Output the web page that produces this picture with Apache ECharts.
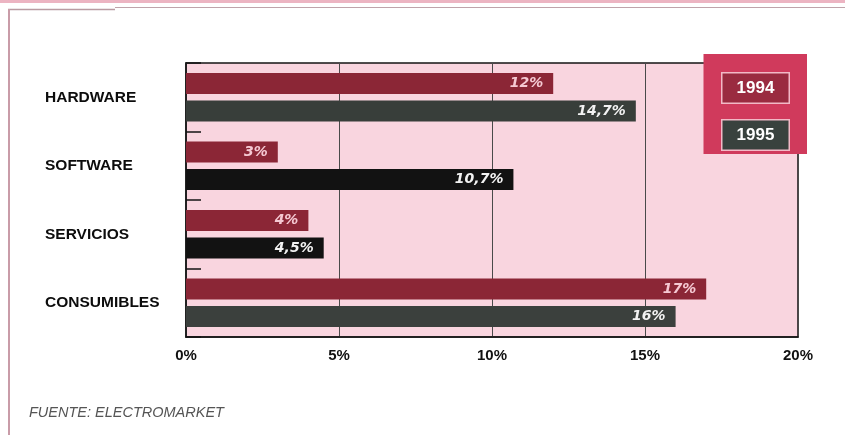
<!DOCTYPE html>
<html>
<head>
<meta charset="utf-8">
<script src="https://cdn.jsdelivr.net/npm/echarts@6/dist/echarts.min.js"></script>
<style>
  html, body { margin: 0; padding: 0; background: #ffffff; }
  #chart { width: 845px; height: 435px; }
</style>
</head>
<body>
<div id="chart"></div>
<script>
// Market growth by segment, 1994 vs 1995 (percent)
const categories = ['HARDWARE', 'SOFTWARE', 'SERVICIOS', 'CONSUMIBLES'];
const years = ['1994', '1995'];
const values1994 = [12, 3, 4, 17];
const values1995 = [14.7, 10.7, 4.5, 16];
const xTicks = [0, 5, 10, 15, 20];
const sourceNote = 'FUENTE: ELECTROMARKET';

// bar fills for the 1995 series (software and services printed in solid black)
const fill1994 = '#8b2636';
const fill1995 = ['#383e3a', '#121212', '#121212', '#3b403d'];
const legendFills = ['#9a2b40', '#39423e'];

const pct = v => String(v).replace('.', ',') + '%';

// one boxed rich-text style per legend entry
const legendBox = fill => ({
  backgroundColor: fill,
  borderColor: '#f2b9c6',
  borderWidth: 1.5,
  width: 66,
  height: 29,
  lineHeight: 29,
  align: 'center',
  color: '#ffffff',
  fontFamily: 'Liberation Sans, Arial, sans-serif',
  fontWeight: 'bold',
  fontSize: 17
});

const chart = echarts.init(document.getElementById('chart'), null, { renderer: 'canvas' });

chart.setOption({
  animation: false,
  backgroundColor: '#ffffff',
  grid: {
    left: 186, right: 47, top: 63, bottom: 98,
    show: true,
    backgroundColor: '#f9d5df',
    borderColor: '#151515',
    borderWidth: 1.5
  },
  legend: {
    orient: 'vertical',
    right: 38,
    top: 54,
    backgroundColor: '#d03a5c',
    padding: [18, 17, 3, 14],
    itemGap: 15,
    itemWidth: 0,
    itemHeight: 0,
    icon: 'rect',
    selectedMode: false,
    data: years,
    formatter: name => '{y' + years.indexOf(name) + '|' + name + '}',
    textStyle: {
      rich: {
        y0: legendBox(legendFills[0]),
        y1: legendBox(legendFills[1])
      }
    }
  },
  xAxis: {
    type: 'value',
    min: xTicks[0],
    max: xTicks[xTicks.length - 1],
    interval: xTicks[1] - xTicks[0],
    axisLine: { show: true, lineStyle: { color: '#151515', width: 1.5 } },
    axisTick: { show: false },
    splitLine: { show: true, lineStyle: { color: '#4a4a4a', width: 1 } },
    axisLabel: {
      formatter: '{value}%',
      color: '#111111',
      fontFamily: 'Liberation Sans, Arial, sans-serif',
      fontWeight: 'bold',
      fontSize: 15,
      margin: 11
    }
  },
  yAxis: {
    type: 'category',
    inverse: true,
    data: categories,
    axisLine: { show: true, lineStyle: { color: '#151515', width: 1.5 } },
    axisTick: { show: true, inside: true, length: 15, lineStyle: { color: '#151515', width: 1.5 } },
    axisLabel: {
      align: 'left',
      margin: 141,
      color: '#0c0c0c',
      fontFamily: 'Liberation Sans, Arial, sans-serif',
      fontWeight: 'bold',
      fontSize: 15.5
    }
  },
  series: [
    {
      name: years[0],
      type: 'bar',
      data: values1994,
      barWidth: 21,
      barGap: '30%',
      itemStyle: { color: fill1994 },
      label: {
        show: true,
        position: 'insideRight',
        distance: 10,
        formatter: p => pct(p.value),
        color: '#f5c9d3',
        fontFamily: 'DejaVu Sans, sans-serif',
        fontStyle: 'italic',
        fontWeight: 'bold',
        fontSize: 14
      }
    },
    {
      name: years[1],
      type: 'bar',
      data: values1995.map((v, i) => ({ value: v, itemStyle: { color: fill1995[i] } })),
      barWidth: 21,
      barGap: '30%',
      itemStyle: { color: fill1995[0] },
      label: {
        show: true,
        position: 'insideRight',
        distance: 10,
        formatter: p => pct(p.value),
        color: '#f2f2f2',
        fontFamily: 'DejaVu Sans, sans-serif',
        fontStyle: 'italic',
        fontWeight: 'bold',
        fontSize: 14
      }
    }
  ],
  graphic: [
    // page frame: pink strip along the top, thin rules on top and left
    { type: 'rect', shape: { x: 0, y: 0, width: 845, height: 3 }, style: { fill: '#ecb4c2' }, silent: true },
    { type: 'line', shape: { x1: 8, y1: 9.5, x2: 115, y2: 9.5 }, style: { stroke: '#b99ba2', lineWidth: 1.5 }, silent: true },
    { type: 'line', shape: { x1: 115, y1: 7.5, x2: 845, y2: 7.5 }, style: { stroke: '#bfa3aa', lineWidth: 1 }, silent: true },
    { type: 'line', shape: { x1: 9, y1: 9, x2: 9, y2: 435 }, style: { stroke: '#c99ca8', lineWidth: 2 }, silent: true },
    {
      type: 'text',
      left: 29,
      top: 405,
      style: {
        text: sourceNote,
        fill: '#555555',
        font: 'italic 14.5px "Liberation Sans", Arial, sans-serif'
      },
      silent: true
    }
  ]
});
</script>
</body>
</html>
